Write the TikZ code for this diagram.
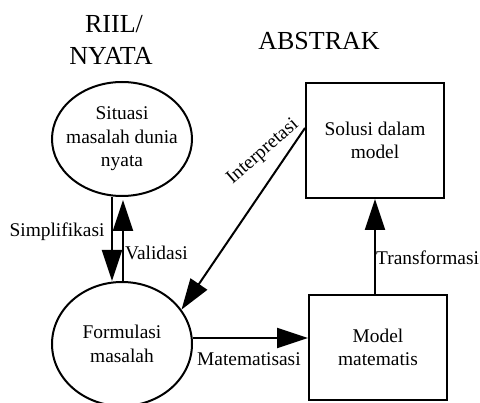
\documentclass[tikz,border=0pt]{standalone}
\usepackage{fontspec}
\setmainfont{Liberation Serif}
\usetikzlibrary{arrows.meta,shapes.geometric}
\begin{document}
\begin{tikzpicture}[x=1pt,y=-1pt,
  lbl/.style={font=\fontsize{19.4}{23.5}\selectfont, inner sep=0pt},
  head/.style={font=\fontsize{26}{32}\selectfont, inner sep=0pt},
  ell/.style={draw, ellipse, line width=2pt, inner sep=0pt, minimum width=140pt},
  boxn/.style={draw, rectangle, line width=2pt, inner sep=0pt, minimum width=138pt,
    align=center, font=\fontsize{19.4}{23.5}\selectfont},
  arr/.style={line width=2pt, -{Triangle[length=31pt,width=20pt]}}]
\useasboundingbox (0,0) rectangle (480,403);
\node[head, anchor=base] (riil) at (114,33) {RIIL/};
\node[head, anchor=base] (nyata) at (111,65) {NYATA};
\node[head, anchor=base] (abs) at (319,50) {ABSTRAK};
\node[ell, minimum height=114pt,
  label={[lbl, align=center]center:Situasi\\masalah dunia\\nyata}] (sit) at (122,139) {};
\node[ell, minimum height=124pt,
  label={[lbl, align=center]center:Formulasi\\masalah}] (form) at (122,344) {};
\node[boxn, minimum height=115pt] (sol) at (375,140.5) {Solusi dalam\\model};
\node[boxn, minimum height=105pt] (mod) at (378,347.5) {Model\\matematis};
\draw[arr] ([xshift=-10pt]sit.south) -- ([xshift=-10pt]form.north);
\draw[arr] ([xshift=1pt]form.north) -- ([xshift=1pt,yshift=-3pt]sit.south);
\draw[arr] ([yshift=6pt]form.east) -- ([yshift=6pt]form.east -| mod.west);
\draw[arr] (mod.north -| sol.south) -- (sol.south);
\draw[arr] ([yshift=12.5pt]sol.west) -- (form.30);
\node[lbl, anchor=base] (ls) at (57,237) {Simplifikasi};
\node[lbl, anchor=base west] (lv) at (125,260) {Validasi};
\node[lbl, anchor=base west] (lm) at (197,366) {Matematisasi};
\node[lbl, anchor=base west] (lt) at (376,265) {Transformasi};
\node[lbl, rotate=41] (li) at (263,152) {Interpretasi};
\end{tikzpicture}
\end{document}
